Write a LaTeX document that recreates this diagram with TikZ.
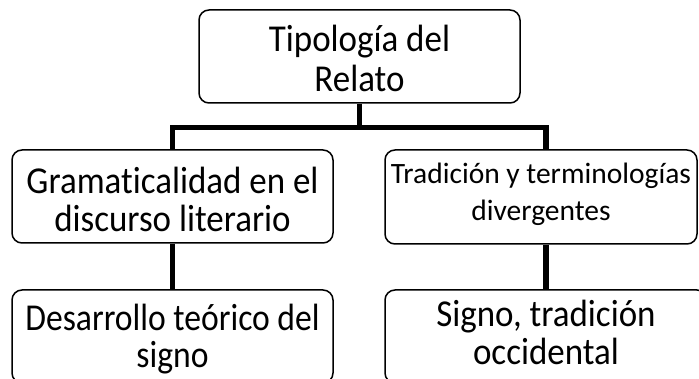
\documentclass[tikz,border=0pt]{standalone}
\usepackage{fontspec}
\setmainfont{Carlito}[Ligatures=NoCommon]
\newfontfamily\tallfont{Carlito}[Ligatures=NoCommon, FakeStretch=0.92]
\newfontfamily\narrowfont{Carlito}[Ligatures=NoCommon, FakeStretch=0.885]
\begin{document}
\begin{tikzpicture}[x=1pt,y=-1pt,
  box/.style={draw, line width=1.5pt, rounded corners=10pt, align=center, inner sep=0pt, text depth=0pt},
  bigtext/.style={font=\tallfont\fontsize{38}{38}\selectfont},
  smalltext/.style={font=\fontsize{29.5}{37}\selectfont},
  conn/.style={line width=5.5pt}]
\useasboundingbox (0,0) rectangle (699,379);
\clip (0,0) rectangle (699,379);
\node[box, font=\tallfont\fontsize{38}{40}\selectfont, text height=71pt, minimum width=321pt, minimum height=93pt] (top) at (359.5,56.5) {Tipología del\\Relato};
\node[box, bigtext, text height=71pt, minimum width=321pt, minimum height=93pt] (gram) at (172.5,196.5) {Gramaticalidad en el\\discurso literario};
\node[box, smalltext, text height=48pt, minimum width=312pt, minimum height=94pt] (trad) at (541,197) {Tradición y terminologías\\divergentes};
\node[box, font=\narrowfont\fontsize{38}{37}\selectfont, text height=61pt, minimum width=321pt, minimum height=93pt] (des) at (172.5,336.5) {Desarrollo teórico del\\signo};
\node[box, bigtext, text height=57pt, minimum width=322pt, minimum height=93pt] (sig) at (546,336.5) {Signo, tradición\\occidental};
\coordinate (hub) at ([yshift=-24pt]top.south);
\draw[conn] (top.south) -- (hub);
\draw[conn] (gram.north) |- (hub) -| ([xshift=5pt]trad.north);
\draw[conn] (gram.south) -- (des.north);
\draw[conn] ([xshift=5pt]trad.south) -- (sig.north);
\end{tikzpicture}
\end{document}
